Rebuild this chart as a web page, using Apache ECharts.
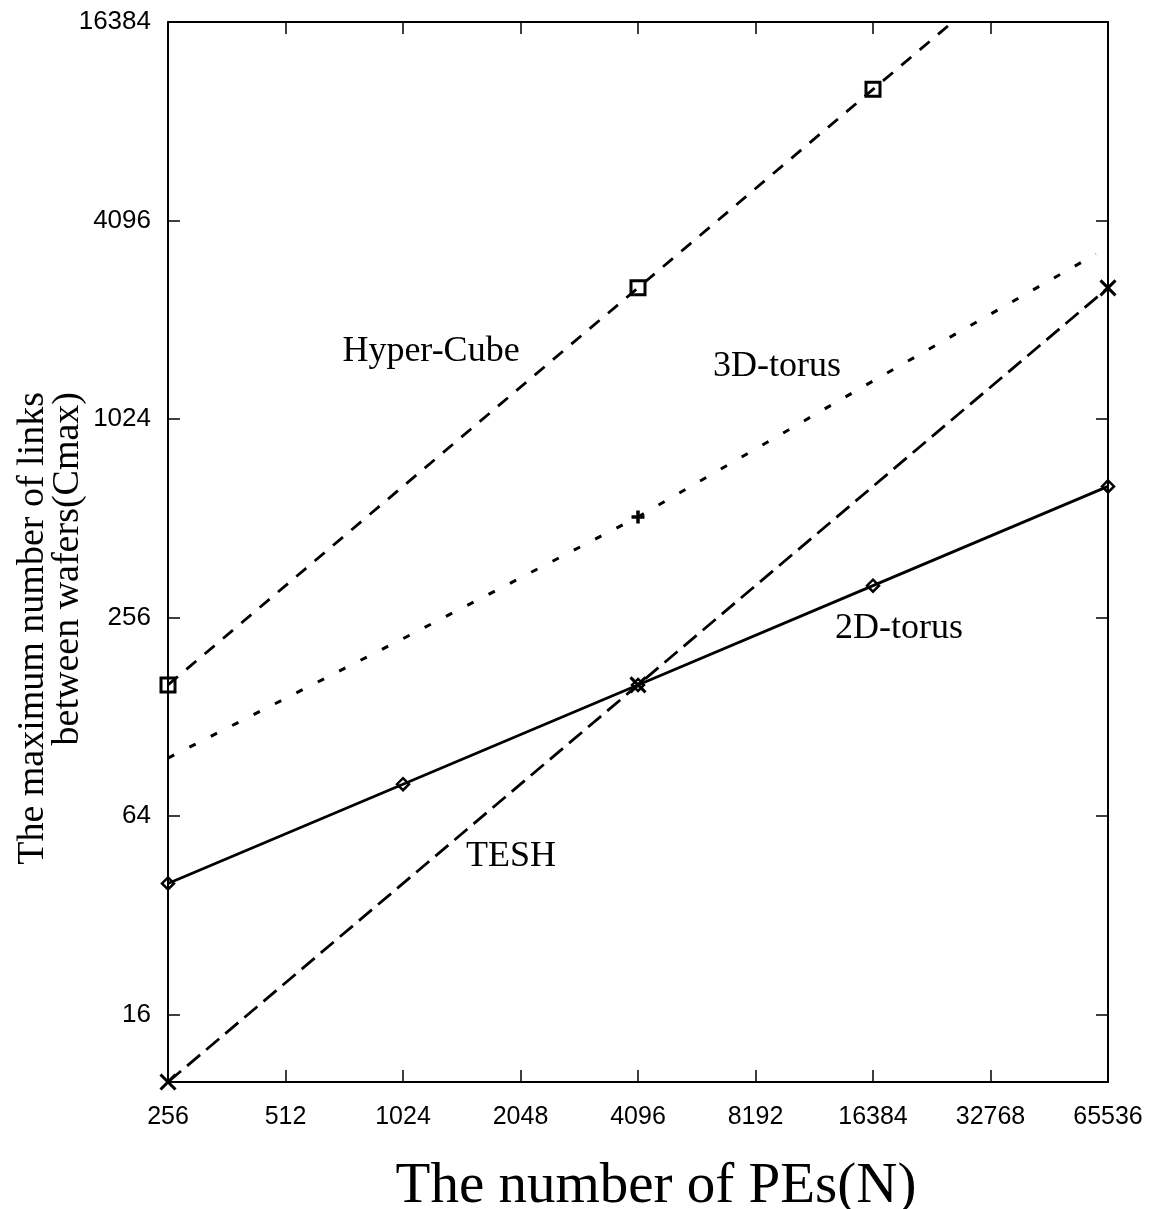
<!DOCTYPE html>
<html>
<head>
<meta charset="utf-8">
<script src="https://cdn.jsdelivr.net/npm/echarts@6/dist/echarts.min.js"></script>
<style>
  html, body { margin: 0; padding: 0; background: #fff; }
  #chart { width: 1149px; height: 1209px; }
</style>
</head>
<body>
<div id="chart"></div>
<script>
// Values (log2 axes on both sides).
const X_TICKS = [256, 512, 1024, 2048, 4096, 8192, 16384, 32768, 65536];
const Y_TICKS = [16, 64, 256, 1024, 4096, 16384];

// Hyper-Cube: marked at 256, 4096, 16384; the line runs on past the top edge.
const HYPERCUBE_N = [256, 4096, 16384, 65536];
const HYPERCUBE_C = [160, 2560, 10240, 40960];
const HYPERCUBE_MARKED = [true, true, true, false];

// 3D-torus: dotted curve, only the 4096 point carries a "+".
const TORUS3D_N = [256, 1024, 4096, 16384, 61000];
const TORUS3D_C = [96, 221, 517, 1336, 3240];
const TORUS3D_MARKED = [false, false, true, false, false];

// 2D-torus: solid, diamond at every point.
const TORUS2D_N = [256, 1024, 4096, 16384, 65536];
const TORUS2D_C = [40, 80, 160, 320, 640];

// TESH: long dashes, cross at each point.
const TESH_N = [256, 4096, 65536];
const TESH_C = [10, 160, 2560];

const SERIF = '"Liberation Serif", "Times New Roman", serif';
const SANS = '"Liberation Sans", Arial, sans-serif';

const SYM_SQUARE = "path://M0,0L10,0L10,10L0,10Z";
const SYM_DIAMOND = "path://M5,0L10,5L5,10L0,5Z";
const SYM_CROSS = "path://M0,0L10,10M10,0L0,10";
const SYM_PLUS = "path://M5,0L5,10M0,5L10,5";

function points(xs, ys, marked) {
  return xs.map((x, i) =>
    marked && !marked[i] ? { value: [x, ys[i]], symbol: "none" } : [x, ys[i]]
  );
}

function lineSeries(name, data, symbol, symbolSize, type, width, markWidth) {
  return {
    name,
    type: "line",
    data,
    symbol,
    symbolSize,
    showAllSymbol: true,
    animation: false,
    lineStyle: { color: "#000", width, type },
    itemStyle: { color: "transparent", borderColor: "#000", borderWidth: markWidth },
  };
}

const label = (v) => String(Math.round(v));

function xAxis(position, showLabels) {
  return {
    type: "log",
    logBase: 2,
    position,
    min: 256,
    max: 65536,
    axisLine: { show: true, lineStyle: { color: "#000", width: 2 } },
    axisTick: { show: true, inside: true, length: 12, lineStyle: { color: "#000", width: 1.5 }, customValues: X_TICKS },
    axisLabel: {
      show: showLabels, customValues: X_TICKS, formatter: label,
      color: "#000", fontFamily: SANS, fontSize: 25, margin: 23,
    },
    splitLine: { show: false },
    minorTick: { show: false },
  };
}

function yAxis(position, showLabels) {
  return {
    type: "log",
    logBase: 2,
    position,
    min: 10,
    max: 16384,
    axisLine: { show: true, lineStyle: { color: "#000", width: 2 } },
    axisTick: { show: true, inside: true, length: 12, lineStyle: { color: "#000", width: 1.5 }, customValues: Y_TICKS },
    axisLabel: {
      show: showLabels, customValues: Y_TICKS, formatter: label,
      color: "#000", fontFamily: SANS, fontSize: 26, margin: 17,
    },
    splitLine: { show: false },
    minorTick: { show: false },
  };
}

const xBottom = xAxis("bottom", true);
xBottom.name = "The number of PEs(N)";
xBottom.nameLocation = "middle";
xBottom.nameGap = 77;
xBottom.nameTextStyle = { fontFamily: SERIF, fontSize: 57, color: "#000", padding: [0, 0, 0, 36] };

const option = {
  backgroundColor: "#fff",
  animation: false,
  grid: { left: 168, right: 41, top: 22, bottom: 127, outerBoundsMode: "none", containLabel: false },
  xAxis: [xBottom, xAxis("top", false)],
  yAxis: [yAxis("left", true), yAxis("right", false)],
  series: [
    lineSeries("Hyper-Cube", points(HYPERCUBE_N, HYPERCUBE_C, HYPERCUBE_MARKED), SYM_SQUARE, 14, [13, 11], 2.8, 3),
    lineSeries("3D-torus", points(TORUS3D_N, TORUS3D_C, TORUS3D_MARKED), SYM_PLUS, 13, [7, 17], 3, 3.5),
    lineSeries("2D-torus", points(TORUS2D_N, TORUS2D_C), SYM_DIAMOND, 12, "solid", 2.8, 2.5),
    lineSeries("TESH", points(TESH_N, TESH_C), SYM_CROSS, 15, [17, 8], 2.8, 3),
  ],
  graphic: [
    {
      type: "text", x: 51, y: 392, rotation: Math.PI / 2,
      style: {
        text: "The maximum number of links\nbetween wafers(Cmax)",
        font: "38px " + SERIF, lineHeight: 35,
        textAlign: "right", textVerticalAlign: "middle", fill: "#000",
      },
    },
    { type: "text", x: 431, y: 352, style: { text: "Hyper-Cube", font: "36px " + SERIF, textAlign: "center", textVerticalAlign: "middle", fill: "#000" } },
    { type: "text", x: 777, y: 367, style: { text: "3D-torus", font: "36px " + SERIF, textAlign: "center", textVerticalAlign: "middle", fill: "#000" } },
    { type: "text", x: 899, y: 629, style: { text: "2D-torus", font: "36px " + SERIF, textAlign: "center", textVerticalAlign: "middle", fill: "#000" } },
    { type: "text", x: 511, y: 857, style: { text: "TESH", font: "36px " + SERIF, textAlign: "center", textVerticalAlign: "middle", fill: "#000" } },
  ],
};

const chart = echarts.init(document.getElementById("chart"));
chart.setOption(option);
window.addEventListener("resize", () => chart.resize());
</script>
</body>
</html>
